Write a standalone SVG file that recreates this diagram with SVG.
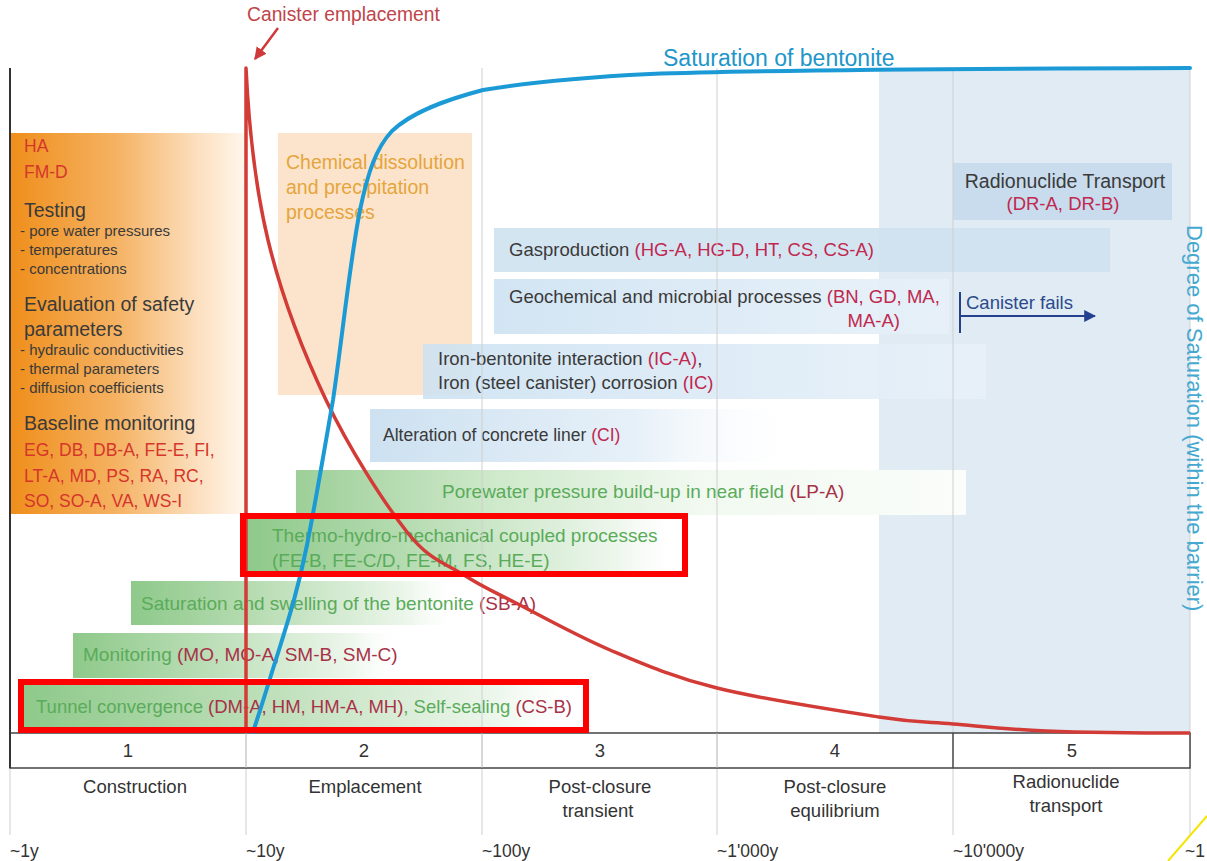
<svg xmlns="http://www.w3.org/2000/svg" width="1207" height="861" viewBox="0 0 1207 861">
<style>
text{font-family:"Liberation Sans",Arial,sans-serif;}
.lbl{font-size:18.5px;fill:#3a3a3a;}
.code{fill:#c0284f;}
.gcode{fill:#a83249;}
.grn{font-size:19px;fill:#5aab5a;}
.ph{font-size:18.5px;fill:#333;text-anchor:middle;}
.yr{font-size:17.5px;fill:#333;}
.hd{font-size:19.5px;fill:#3a3a3a;}
.sub{font-size:15px;fill:#3a3a3a;}
.ored{font-size:17.5px;fill:#d5362b;}
.grid{stroke:#cfcfcf;stroke-width:1;fill:none;}
</style>
<defs>
<linearGradient id="gOr" x1="0" y1="0" x2="1" y2="0">
<stop offset="0" stop-color="#ef8e1b"/><stop offset="0.45" stop-color="#f5b262"/><stop offset="0.8" stop-color="#fce0c0"/><stop offset="1" stop-color="#fff7ee"/>
</linearGradient>
<linearGradient id="gGr" x1="0" y1="0" x2="1" y2="0">
<stop offset="0" stop-color="#8ec98a"/><stop offset="0.45" stop-color="#bfe0bb"/><stop offset="0.85" stop-color="#eef7ed"/><stop offset="1" stop-color="#ffffff" stop-opacity="0"/>
</linearGradient>
<linearGradient id="gGrL" x1="0" y1="0" x2="1" y2="0">
<stop offset="0" stop-color="#9dcf98"/><stop offset="0.3" stop-color="#cfe9cb"/><stop offset="0.6" stop-color="#f1f9f0"/><stop offset="1" stop-color="#fafdfa"/>
</linearGradient>
<linearGradient id="gBl" x1="0" y1="0" x2="1" y2="0">
<stop offset="0" stop-color="#cde2f2"/><stop offset="1" stop-color="#e8f1f9"/>
</linearGradient>
<linearGradient id="gBlF" x1="0" y1="0" x2="1" y2="0">
<stop offset="0" stop-color="#cde1f1"/><stop offset="0.6" stop-color="#e6f0f8"/><stop offset="1" stop-color="#ffffff" stop-opacity="0"/>
</linearGradient>
<marker id="arRed" viewBox="0 0 10 10" refX="9" refY="5" markerWidth="5" markerHeight="5" orient="auto" markerUnits="strokeWidth">
<path d="M0,0 L10,5 L0,10 Z" fill="#d0393a"/>
</marker>
<marker id="arBlue" viewBox="0 0 10 10" refX="9" refY="5" markerWidth="6" markerHeight="6" orient="auto" markerUnits="strokeWidth">
<path d="M0,0 L10,5 L0,10 Z" fill="#24408e"/>
</marker>
</defs>

<rect width="1207" height="861" fill="#ffffff"/>

<!-- phase 5 shaded region -->
<rect x="879" y="68" width="311" height="665" fill="#e0ebf4"/>

<g id="orange-box">
<rect x="10" y="133" width="236" height="381" fill="url(#gOr)"/>
<text class="ored" x="24" y="152">HA</text>
<text class="ored" x="24" y="178">FM-D</text>
<text class="hd" x="24" y="217">Testing</text>
<text class="sub" x="20" y="236">- pore water pressures</text>
<text class="sub" x="20" y="255">- temperatures</text>
<text class="sub" x="20" y="274">- concentrations</text>
<text class="hd" x="24" y="311">Evaluation of safety</text>
<text class="hd" x="24" y="336">parameters</text>
<text class="sub" x="20" y="355">- hydraulic conductivities</text>
<text class="sub" x="20" y="374">- thermal parameters</text>
<text class="sub" x="20" y="393">- diffusion coefficients</text>
<text class="hd" x="24" y="430">Baseline monitoring</text>
<text class="ored" x="24" y="456">EG, DB, DB-A, FE-E, FI,</text>
<text class="ored" x="24" y="482">LT-A, MD, PS, RA, RC,</text>
<text class="ored" x="24" y="507">SO, SO-A, VA, WS-I</text>
</g>

<g id="chemical">
<rect x="278" y="133" width="194" height="262" fill="#fbe4cb"/>
<text x="286" y="169" font-size="19.5" fill="#e6a53c">Chemical dissolution</text>
<text x="286" y="194" font-size="19.5" fill="#e6a53c">and precipitation</text>
<text x="286" y="219" font-size="19.5" fill="#e6a53c">processes</text>
</g>

<g id="radionuclide">
<rect x="953" y="163" width="219" height="57" fill="#c8dcee"/>
<text x="1065" y="188" font-size="19.5" fill="#3a3a3a" text-anchor="middle">Radionuclide Transport</text>
<text class="lbl code" x="1063" y="210" text-anchor="middle">(DR-A, DR-B)</text>
</g>

<g id="gasproduction">
<rect x="494" y="228" width="616" height="44" fill="#cfe2f1" fill-opacity="0.9"/>
<text class="lbl" x="509" y="256">Gasproduction <tspan class="code">(HG-A, HG-D, HT, CS, CS-A)</tspan></text>
</g>

<g id="geochemical">
<rect x="494" y="279" width="455" height="55" fill="url(#gBl)" fill-opacity="0.9"/>
<text class="lbl" x="509" y="303">Geochemical and microbial processes <tspan class="code">(BN, GD, MA,</tspan></text>
<text class="lbl code" x="900" y="327" text-anchor="end">MA-A)</text>
</g>

<g id="iron">
<rect x="423" y="344" width="563" height="55" fill="url(#gBl)" fill-opacity="0.9"/>
<text class="lbl" x="438" y="365">Iron-bentonite interaction <tspan class="code">(IC-A)</tspan>,</text>
<text class="lbl" x="438" y="389">Iron (steel canister) corrosion <tspan class="code">(IC)</tspan></text>
</g>

<g id="alteration">
<rect x="370" y="409" width="440" height="53" fill="url(#gBlF)"/>
<text x="383" y="441" font-size="17.5" fill="#3a3a3a">Alteration of concrete liner <tspan class="code">(CI)</tspan></text>
</g>

<g id="porewater">
<rect x="296" y="470" width="670" height="45" fill="url(#gGrL)"/>
<text class="grn" x="442" y="498">Porewater pressure build-up in near field <tspan class="gcode">(LP-A)</tspan></text>
</g>

<g id="thermo">
<rect x="246" y="519" width="439" height="53" fill="url(#gGr)"/>
<text class="grn" x="272" y="542">Thermo-hydro-mechanical coupled processes</text>
<text class="grn gcode" x="272" y="567">(FE-B, FE-C/D, FE-M, FS, HE-E)</text>
</g>

<g id="saturation">
<rect x="131" y="581" width="330" height="44" fill="url(#gGr)"/>
<text class="grn" x="141" y="610">Saturation and swelling of the bentonite <tspan class="gcode">(SB-A)</tspan></text>
</g>

<g id="monitoring">
<rect x="73" y="633" width="330" height="45" fill="url(#gGr)"/>
<text class="grn" x="83" y="661">Monitoring <tspan class="gcode">(MO, MO-A, SM-B, SM-C)</tspan></text>
</g>

<g id="tunnel">
<rect x="21" y="684" width="565" height="45" fill="url(#gGr)"/>
<text x="36" y="713" font-size="18.5" fill="#5aab5a">Tunnel convergence <tspan class="gcode">(DM-A, HM, HM-A, MH)</tspan>, Self-sealing <tspan class="gcode">(CS-B)</tspan></text>
</g>

<!-- grid -->
<g id="grid">
<line class="grid" x1="246" y1="68" x2="246" y2="835"/>
<line class="grid" x1="482" y1="68" x2="482" y2="835"/>
<line class="grid" x1="717" y1="68" x2="717" y2="835"/>
<line class="grid" x1="953" y1="68" x2="953" y2="835"/>
<line class="grid" x1="1190" y1="68" x2="1190" y2="835"/>
<line class="grid" x1="10" y1="768" x2="10" y2="835"/>
</g>

<g id="phase-table">
<rect x="10" y="733" width="1180" height="35" fill="#ffffff" stroke="#444" stroke-width="1.5"/>
<line x1="246" y1="733" x2="246" y2="768" stroke="#b0b0b0" stroke-width="1"/>
<line x1="482" y1="733" x2="482" y2="768" stroke="#b0b0b0" stroke-width="1"/>
<line x1="717" y1="733" x2="717" y2="768" stroke="#b0b0b0" stroke-width="1"/>
<line x1="953" y1="733" x2="953" y2="768" stroke="#444" stroke-width="1.5"/>
<text class="ph" x="128" y="757">1</text>
<text class="ph" x="364" y="757">2</text>
<text class="ph" x="600" y="757">3</text>
<text class="ph" x="835" y="757">4</text>
<text class="ph" x="1072" y="757">5</text>
<text class="ph" x="135" y="793">Construction</text>
<text class="ph" x="365" y="793">Emplacement</text>
<text class="ph" x="600" y="793">Post-closure</text>
<text class="ph" x="598" y="817">transient</text>
<text class="ph" x="835" y="793">Post-closure</text>
<text class="ph" x="835" y="817">equilibrium</text>
<text class="ph" x="1066" y="788">Radionuclide</text>
<text class="ph" x="1066" y="812">transport</text>
<text class="yr" x="10" y="857">~1y</text>
<text class="yr" x="246" y="857">~10y</text>
<text class="yr" x="482" y="857">~100y</text>
<text class="yr" x="717" y="857">~1'000y</text>
<text class="yr" x="953" y="857">~10'000y</text>
<text class="yr" x="1185" y="857">~1</text>
</g>

<!-- left axis -->
<line x1="10" y1="68" x2="10" y2="768" stroke="#333" stroke-width="2"/>

<g id="curves">
<path d="M246,733 L246,68 C249,130 254.7,184.7 268,240 C281.3,295.3 302.8,351.3 326,400 C349.2,448.7 384,502.8 407,532 C430,561.2 445.8,563.2 464,575 C482.2,586.8 491.7,590.5 516,603 C540.3,615.5 576.5,635.8 610,650 C643.5,664.2 672.2,676.8 717,688 C761.8,699.2 839.7,711 879,717 C918.3,723 925.2,721.7 953,724 C980.8,726.3 1006.5,729.5 1046,731 C1085.5,732.5 1150,733 1190,733" fill="none" stroke="#d23b36" stroke-width="3.5" stroke-linejoin="round"/>
<path d="M253,732 C262,705 270,678 278,653 C288,621 298,590 307,545 C316,500 326,440 333,400 C342,340 350,260 360,210 C368,172 376,148 392,131 C412,112 445,100 483,90 C530,82 590,77 650,74 C730,71 850,69 1190,68" fill="none" stroke="#1b9ad6" stroke-width="4" stroke-linecap="round"/>
</g>

<g id="labels">
<text x="247" y="21" font-size="19.3" fill="#c0444a">Canister emplacement</text>
<text x="663" y="66" font-size="23" fill="#2196c9">Saturation of bentonite</text>
<text transform="translate(1187,225) rotate(90)" font-size="22" fill="#44a8d0">Degree of Saturation (within the barrier)</text>
<text x="966" y="309" font-size="18.5" fill="#2b4a8b">Canister fails</text>
</g>

<g id="connectors">
<line x1="278" y1="28" x2="255" y2="59" stroke="#d0393a" stroke-width="2.5" marker-end="url(#arRed)"/>
<line x1="960" y1="292" x2="960" y2="333" stroke="#24408e" stroke-width="2"/>
<line x1="960" y1="316" x2="1095" y2="316" stroke="#24408e" stroke-width="2" marker-end="url(#arBlue)"/>
</g>

<g id="highlights">
<rect x="243" y="516" width="442" height="58" fill="none" stroke="#ff0000" stroke-width="6"/>
<rect x="21" y="682" width="565" height="48" fill="none" stroke="#ff0000" stroke-width="6"/>
</g>

<line x1="1168" y1="861" x2="1207" y2="816" stroke="#f5e400" stroke-width="2"/>
</svg>
